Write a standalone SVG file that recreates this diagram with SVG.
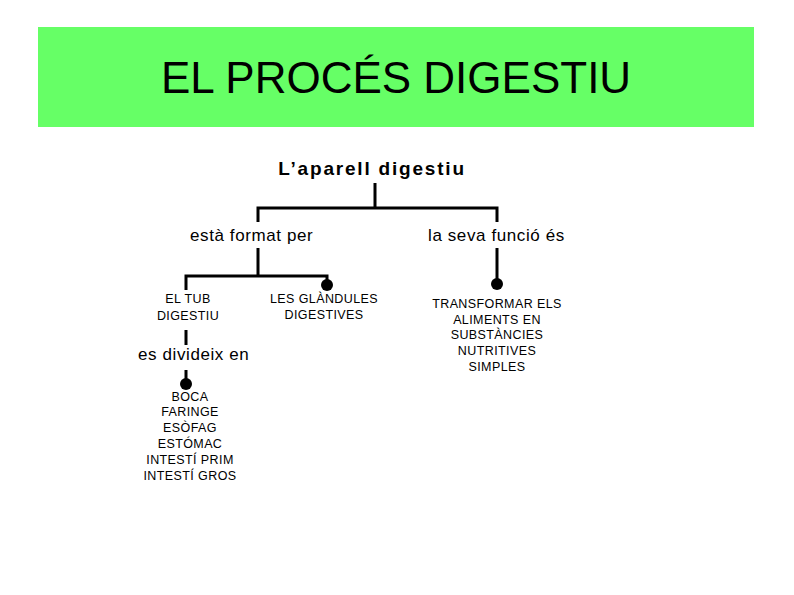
<svg xmlns="http://www.w3.org/2000/svg" width="794" height="595" viewBox="0 0 794 595">
<style>
.t{font-family:"Liberation Sans",Arial,sans-serif;fill:#000}
.i{font-size:17px;letter-spacing:0.6px}
.c{font-size:12.5px;text-anchor:middle;letter-spacing:0.4px}
.ln{stroke:#000;stroke-width:3;fill:none}
</style>
<rect width="794" height="595" fill="#fff"/>
<g id="title">
<rect x="38" y="27" width="716" height="100" fill="#66ff66"/>
<text class="t" x="396" y="93" font-size="44" text-anchor="middle">EL PROCÉS DIGESTIU</text>
</g>
<g id="connectors">
<path class="ln" d="M375 183V208M258 222V208H497V222"/>
<path class="ln" d="M258 248V276M186 290V276H327V284"/>
<path class="ln" d="M497 248V284"/>
<path class="ln" d="M186 330V345M186 370V384"/>
<circle cx="327" cy="285" r="6"/>
<circle cx="497" cy="284" r="6"/>
<circle cx="186" cy="384" r="6"/>
</g>
<g id="root"><text class="t" x="372" y="175" font-size="19" font-weight="bold" text-anchor="middle" letter-spacing="1.8">L’aparell digestiu</text></g>
<g id="format"><text class="t i" x="190" y="241" letter-spacing="1">està format  per</text></g>
<g id="funcio"><text class="t i" x="428" y="241">la seva funció és</text></g>
<g id="tub"><text class="t c" x="188" y="303">EL TUB</text><text class="t c" x="188" y="320">DIGESTIU</text></g>
<g id="glandules"><text class="t c" x="324" y="303">LES GLÀNDULES</text><text class="t c" x="324" y="319">DIGESTIVES</text></g>
<g id="transformar"><text class="t c" x="497" y="308">TRANSFORMAR ELS</text><text class="t c" x="497" y="324">ALIMENTS EN</text><text class="t c" x="497" y="339">SUBSTÀNCIES</text><text class="t c" x="497" y="355">NUTRITIVES</text><text class="t c" x="497" y="371">SIMPLES</text></g>
<g id="divideix"><text class="t i" x="138" y="360" letter-spacing="0.3">es divideix en</text></g>
<g id="parts"><text class="t c" x="190" y="401">BOCA</text><text class="t c" x="190" y="416">FARINGE</text><text class="t c" x="190" y="432">ESÒFAG</text><text class="t c" x="190" y="448">ESTÓMAC</text><text class="t c" x="190" y="464">INTESTÍ PRIM</text><text class="t c" x="190" y="480">INTESTÍ GROS</text></g>
</svg>
